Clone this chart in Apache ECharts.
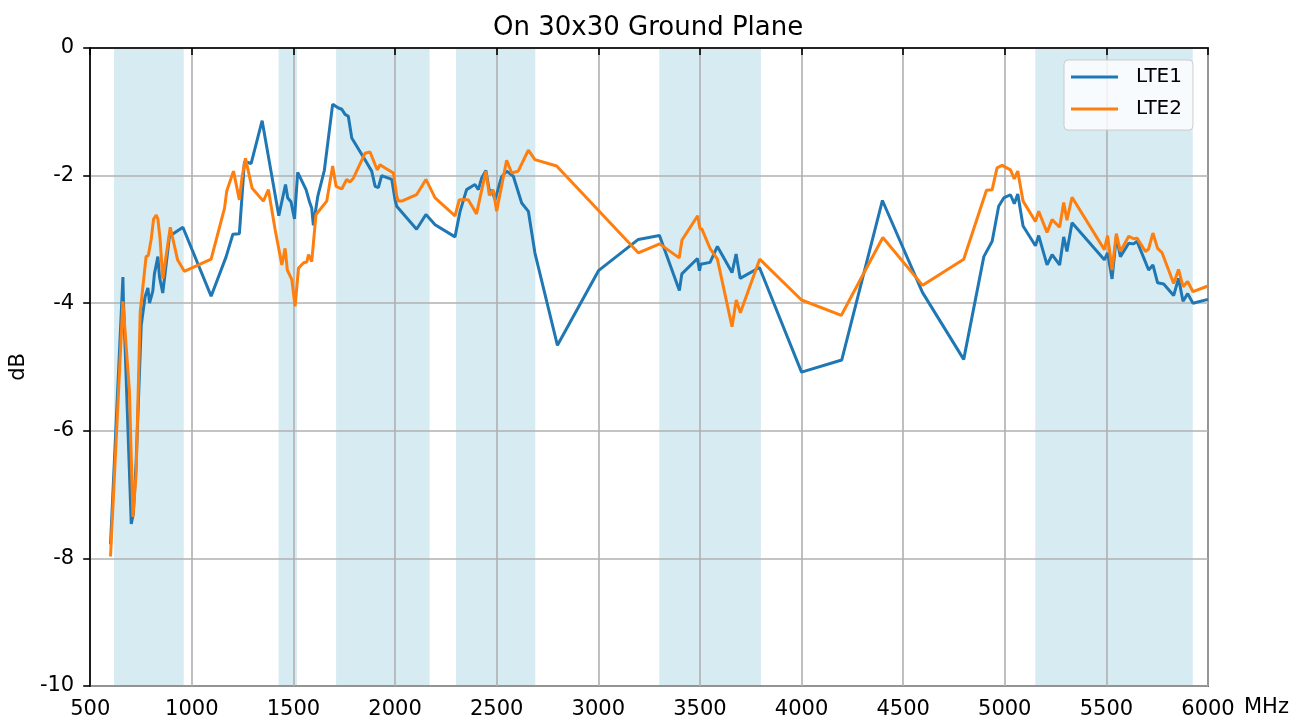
<!DOCTYPE html>
<html style="height: 100%">
<head>
    <meta charset="UTF-8">
    <title>On 30x30 Ground Plane</title>
    <script src="https://cdn.jsdelivr.net/npm/echarts@6/dist/echarts.min.js"></script>
    <style>
        #main { width: 1306px; height: 722px; }
    </style>
</head>
<body style="height: 100%; margin: 0; background: #fff">
    <div id="main"></div>
    <script type="text/javascript">
        // frequency (MHz) and efficiency (dB)
        var lte1Freq = [600, 661, 663, 702, 712, 726, 751, 770, 784, 792, 808, 816, 833, 841, 857, 890, 956,
            1095, 1169, 1202, 1234, 1259, 1292, 1346, 1428, 1461, 1472, 1488, 1505, 1521, 1562, 1579, 1590,
            1598, 1620, 1652, 1693, 1721, 1738, 1754, 1770, 1787, 1861, 1885, 1902, 1918, 1934, 1984, 2000,
            2008, 2016, 2106, 2152, 2197, 2295, 2320, 2352, 2377, 2393, 2410, 2426, 2447, 2467, 2475, 2492,
            2524, 2549, 2582, 2623, 2656, 2688, 2799, 3001, 3197, 3301, 3399, 3411, 3488, 3498, 3504, 3550,
            3586, 3658, 3678, 3698, 3793, 4000, 4198, 4398, 4595, 4798, 4897, 4938, 4970, 4995, 5028, 5047,
            5064, 5090, 5151, 5167, 5208, 5233, 5270, 5290, 5306, 5331, 5490, 5506, 5528, 5549, 5569, 5610,
            5634, 5651, 5708, 5729, 5752, 5782, 5831, 5855, 5877, 5900, 5926, 6000];
        var lte1Db = [-7.78, -3.59, -3.9, -7.46, -7.3, -6.5, -4.35, -3.9, -3.76, -4.0, -3.81, -3.54, -3.27, -3.59, -3.84, -2.95, -2.81,
            -3.89, -3.27, -2.92, -2.91, -1.78, -1.81, -1.14, -2.63, -2.14, -2.35, -2.41, -2.68, -1.95, -2.22, -2.41, -2.51,
            -2.78, -2.32, -1.92, -0.88, -0.94, -0.96, -1.04, -1.07, -1.41, -1.80, -1.93, -2.17, -2.19, -2.0, -2.06, -2.38,
            -2.48, -2.46, -2.84, -2.61, -2.77, -2.96, -2.56, -2.22, -2.17, -2.14, -2.22, -2.04, -1.92, -2.30, -2.22, -2.38,
            -2.02, -1.93, -2.01, -2.43, -2.56, -3.21, -4.66, -3.49, -3.0, -2.94, -3.80, -3.54, -3.30, -3.49, -3.39, -3.36,
            -3.11, -3.52, -3.23, -3.61, -3.44, -5.08, -4.89, -2.39, -3.83, -4.88, -3.27, -3.03, -2.48, -2.35, -2.30, -2.44,
            -2.29, -2.79, -3.10, -2.94, -3.40, -3.24, -3.40, -2.96, -3.19, -2.74, -3.32, -3.21, -3.62, -2.95, -3.27, -3.06,
            -3.07, -3.03, -3.48, -3.40, -3.68, -3.70, -3.88, -3.61, -3.97, -3.85, -4.0, -3.94];

        var lte2Freq = [600, 661, 693, 710, 726, 746, 775, 786, 800, 805, 812, 825, 833, 844, 857, 894, 930, 963,
            1095, 1161, 1172, 1205, 1234, 1247, 1264, 1297, 1352, 1377, 1410, 1443, 1459, 1470, 1492, 1508,
            1525, 1549, 1566, 1574, 1590, 1611, 1664, 1693, 1710, 1738, 1762, 1778, 1795, 1852, 1877, 1902,
            1913, 1926, 1951, 1992, 2008, 2016, 2033, 2106, 2152, 2197, 2295, 2316, 2360, 2401, 2418, 2447,
            2464, 2483, 2500, 2549, 2574, 2606, 2656, 2688, 2795, 3197, 3302, 3398, 3412, 3489, 3500, 3510,
            3551, 3586, 3658, 3679, 3699, 3794, 4000, 4196, 4400, 4596, 4798, 4910, 4938, 4962, 4987, 5028,
            5047, 5064, 5090, 5151, 5167, 5208, 5233, 5270, 5290, 5306, 5331, 5490, 5506, 5528, 5549, 5569,
            5610, 5634, 5651, 5692, 5708, 5729, 5752, 5774, 5831, 5855, 5877, 5900, 5926, 6000];
        var lte2Db = [-7.97, -3.97, -5.38, -7.35, -6.68, -4.14, -3.27, -3.25, -3.0, -2.99, -2.68, -2.62, -2.68, -3.0, -3.62, -2.81, -3.32, -3.50,
            -3.31, -2.51, -2.24, -1.93, -2.38, -2.03, -1.73, -2.20, -2.40, -2.22, -2.85, -3.40, -3.14, -3.48, -3.63, -4.05,
            -3.45, -3.37, -3.35, -3.24, -3.35, -2.61, -2.40, -1.85, -2.17, -2.21, -2.06, -2.10, -2.04, -1.65, -1.63, -1.83,
            -1.91, -1.83, -1.88, -1.96, -2.32, -2.40, -2.40, -2.30, -2.06, -2.35, -2.63, -2.38, -2.38, -2.60, -2.35, -1.93,
            -2.31, -2.22, -2.56, -1.76, -1.96, -1.93, -1.60, -1.75, -1.85, -3.21, -3.07, -3.29, -3.01, -2.63, -2.83, -2.84,
            -3.15, -3.31, -4.37, -3.95, -4.15, -3.31, -3.95, -4.19, -2.97, -3.72, -3.31, -2.23, -2.22, -1.88, -1.84, -1.91,
            -2.05, -1.93, -2.40, -2.72, -2.56, -2.89, -2.69, -2.81, -2.42, -2.70, -2.34, -3.16, -2.94, -3.48, -2.91, -3.19,
            -2.95, -2.99, -2.98, -3.19, -3.15, -2.90, -3.14, -3.21, -3.69, -3.47, -3.74, -3.66, -3.82, -3.73];

        // LTE bands shaded in the background (MHz)
        var bandStart = [617, 1427, 1710, 2300, 3300, 5150];
        var bandEnd = [960, 1518, 2170, 2690, 3800, 5925];

        var seriesNames = ['LTE1', 'LTE2'];
        var font = 'DejaVu Sans';

        function pairs(xs, ys) {
            return xs.map(function (x, i) { return [x, ys[i]]; });
        }

        var chartDom = document.getElementById('main');
        var myChart = echarts.init(chartDom, null, { renderer: 'canvas' });

        var bands = bandStart.map(function (s, i) {
            return [{ xAxis: s }, { xAxis: bandEnd[i] }];
        });

        var option = {
            animation: false,
            backgroundColor: '#ffffff',
            title: {
                text: 'On 30x30 Ground Plane',
                left: 493,
                top: 15,
                padding: 0,
                textStyle: { fontFamily: font, fontSize: 26, fontWeight: 'normal', color: '#000' }
            },
            legend: {
                data: seriesNames,
                orient: 'vertical',
                left: 1064,
                top: 60,
                padding: [6, 11, 10, 7],
                itemGap: 10,
                itemWidth: 47,
                itemHeight: 3,
                icon: 'rect',
                backgroundColor: 'rgba(255,255,255,0.8)',
                borderColor: '#cccccc',
                borderWidth: 1,
                borderRadius: 4,
                z: 10,
                textStyle: { fontFamily: font, fontSize: 20, lineHeight: 22, color: '#000', padding: [0, 0, 0, 13] }
            },
            grid: {
                show: true,
                left: 90, right: 98, top: 48, bottom: 36,
                borderColor: '#000',
                borderWidth: 1.6,
                backgroundColor: 'transparent',
                z: 3
            },
            graphic: [{
                // axis unit written next to the last tick label, as in the source
                type: 'text',
                left: 1244,
                top: 697,
                z: 10,
                style: { text: 'MHz', fontFamily: font, fontSize: 21, fill: '#000' }
            }],
            xAxis: {
                type: 'value',
                min: 500, max: 6000, interval: 500,
                z: 3,
                axisLine: { lineStyle: { color: '#000', width: 1.6 } },
                axisTick: { length: 7, lineStyle: { color: '#000', width: 1.6 } },
                axisLabel: {
                    fontFamily: font, fontSize: 21, color: '#000', margin: 13,
                    formatter: function (v) { return String(v); }
                },
                splitLine: { show: true, lineStyle: { color: '#b0b0b0', width: 1.6 } }
            },
            yAxis: {
                type: 'value',
                min: -10, max: 0, interval: 2,
                z: 3,
                name: 'dB',
                nameLocation: 'middle',
                nameGap: 60,
                nameRotate: 90,
                nameTextStyle: { fontFamily: font, fontSize: 21, color: '#000' },
                axisLine: { lineStyle: { color: '#000', width: 1.6 } },
                axisTick: { length: 7, lineStyle: { color: '#000', width: 1.6 } },
                axisLabel: {
                    fontFamily: font, fontSize: 21, color: '#000', margin: 16,
                    formatter: function (v) { return String(v); }
                },
                splitLine: { show: true, lineStyle: { color: '#b0b0b0', width: 1.6 } }
            },
            series: [
                {
                    name: 'bands',
                    type: 'line',
                    data: [],
                    z: 1,
                    silent: true,
                    markArea: {
                        silent: true,
                        itemStyle: { color: 'rgba(173,216,230,0.5)' },
                        data: bands
                    }
                },
                {
                    name: seriesNames[0],
                    type: 'line',
                    data: pairs(lte1Freq, lte1Db),
                    symbol: 'none',
                    z: 5,
                    color: '#1f77b4',
                    lineStyle: { width: 3, color: '#1f77b4' }
                },
                {
                    name: seriesNames[1],
                    type: 'line',
                    data: pairs(lte2Freq, lte2Db),
                    symbol: 'none',
                    z: 5,
                    color: '#ff7f0e',
                    lineStyle: { width: 3, color: '#ff7f0e' }
                }
            ]
        };

        myChart.setOption(option);
    </script>
</body>
</html>
